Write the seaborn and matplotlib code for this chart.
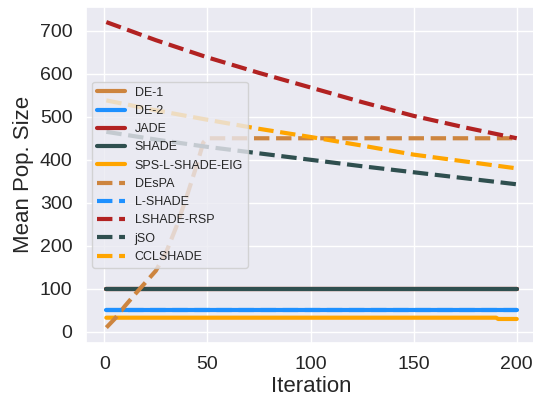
import numpy as np
import pandas as pd
import seaborn as sns
import matplotlib.pyplot as plt

# values (iteration -> mean population size)
const_iters = [1, 200]
de1_vals = [100, 100]
de2_vals = [50, 50]
jade_vals = [100, 100]
shade_vals = [100, 100]

sps_iters = [1, 190, 191, 200]
sps_vals = [33, 33, 30, 30]

despa_iters = [1, 5, 10, 15, 20, 25, 30, 35, 40, 45, 48, 50, 200]
despa_vals = [10, 30, 60, 88, 115, 142, 185, 245, 315, 390, 440, 450, 450]

lshade_vals = [50, 50]

curve_iters = [1, 25, 50, 75, 100, 125, 150, 175, 200]
rsp_vals = [720, 678, 638, 602, 568, 534, 502, 475, 450]
jso_vals = [465, 447, 430, 415, 400, 385, 371, 357, 343]
ccl_vals = [538, 515, 493, 472, 453, 433, 412, 396, 380]

series = [
    ("DE-1", const_iters, de1_vals, "peru", "-"),
    ("DE-2", const_iters, de2_vals, "dodgerblue", "-"),
    ("JADE", const_iters, jade_vals, "firebrick", "-"),
    ("SHADE", const_iters, shade_vals, "darkslategray", "-"),
    ("SPS-L-SHADE-EIG", sps_iters, sps_vals, "orange", "-"),
    ("DEsPA", despa_iters, despa_vals, "peru", "--"),
    ("L-SHADE", const_iters, lshade_vals, "dodgerblue", "--"),
    ("LSHADE-RSP", curve_iters, rsp_vals, "firebrick", "--"),
    ("jSO", curve_iters, jso_vals, "darkslategray", "--"),
    ("CCLSHADE", curve_iters, ccl_vals, "orange", "--"),
]

sns.set_theme(style="darkgrid")
plt.rcParams['font.family'] = ['Liberation Sans', 'DejaVu Sans']

fig = plt.figure(figsize=(5.33, 4.01), dpi=100)
ax = fig.add_axes([0.161, 0.145, 0.847, 0.838])

for name, xs, ys, color, ls in series:
    df = pd.DataFrame({"Iteration": xs, "Mean Pop. Size": ys})
    sns.lineplot(x="Iteration", y="Mean Pop. Size", data=df, ax=ax,
                 color=color, linestyle=ls, linewidth=3, label=name)

ax.set_xticks([0, 50, 100, 150, 200])
ax.set_yticks(np.arange(0, 701, 100))
ax.tick_params(labelsize=14)
ax.set_xlabel("Iteration", fontsize=16, labelpad=2)
ax.set_ylabel("Mean Pop. Size", fontsize=16)
ax.legend(loc="center left", fontsize=9, handlelength=2.2)

fig.savefig("out.png", dpi=100)
